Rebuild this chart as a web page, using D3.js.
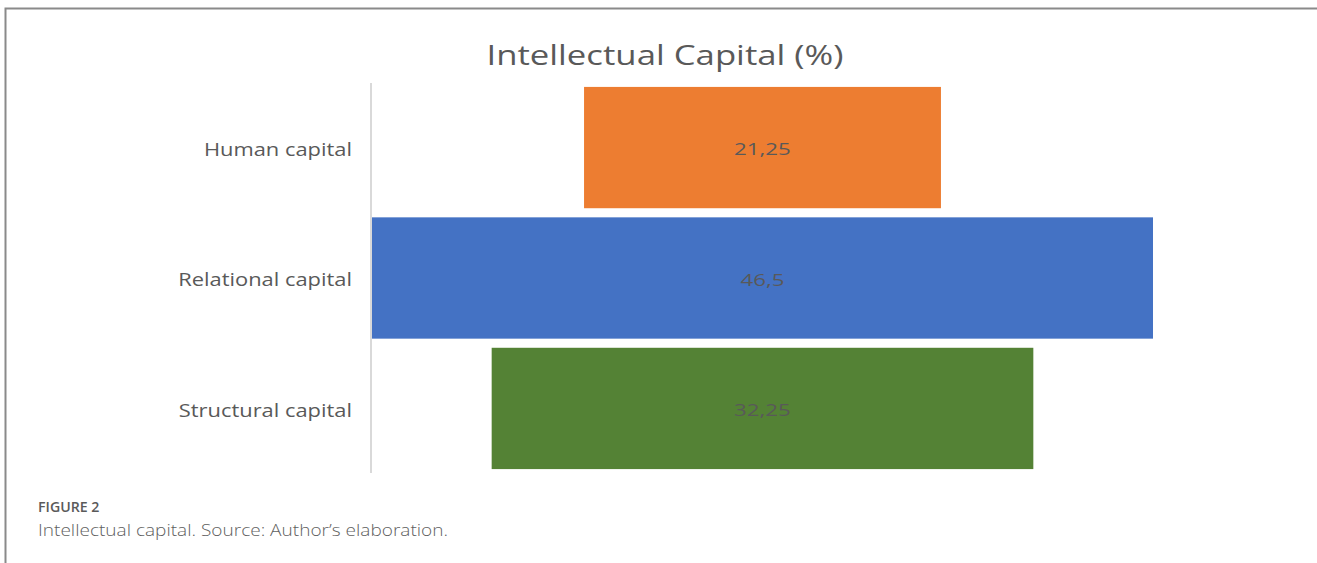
<!DOCTYPE html>
<html>
<head>
<meta charset="utf-8">
<script src="https://cdn.jsdelivr.net/npm/d3@7/dist/d3.min.js"></script>
<style>
  html, body { margin: 0; padding: 0; background: #fff; }
  svg { display: block; }
</style>
</head>
<body>
<script>
// Funnel-style bar chart: Intellectual Capital (%)
const categories = ["Human capital", "Relational capital", "Structural capital"];
const values = [21.25, 46.5, 32.25];
const valueLabels = ["21,25", "46,5", "32,25"];
const colors = ["#ED7D31", "#4472C4", "#548235"];
const chartTitle = "Intellectual Capital (%)";
const figureLabel = "FIGURE 2";
const figureCaption = "Intellectual capital. Source: Author\u2019s elaboration.";

const W = 1317, H = 563;
const svg = d3.select("body").append("svg").attr("width", W).attr("height", H);

// Widen a text element horizontally by a factor, keeping its anchor
function widen(sel, factor) {
  sel.each(function () {
    const len = this.getComputedTextLength();
    d3.select(this)
      .attr("textLength", len * factor)
      .attr("lengthAdjust", "spacingAndGlyphs");
  });
}

// Frame around the figure (left and top edges)
svg.append("path")
  .attr("d", `M5.5,${H} L5.5,8.5 L${W},8.5`)
  .attr("fill", "none")
  .attr("stroke", "#8a8a8a")
  .attr("stroke-width", 2);

// Plot area
const plotLeft = 372, plotRight = 1153;
const plotTop = 83, plotBottom = 473;
const centerX = (plotLeft + plotRight) / 2;

const x = d3.scaleLinear()
  .domain([0, d3.max(values)])
  .range([0, plotRight - plotLeft]);

const y = d3.scaleBand()
  .domain(categories)
  .range([plotTop, plotBottom])
  .paddingInner(0.07)
  .paddingOuter(0.03);

// Title
svg.append("text")
  .attr("x", 665)
  .attr("y", 65)
  .attr("text-anchor", "middle")
  .attr("font-family", "'Open Sans', sans-serif")
  .attr("font-size", 26.5)
  .attr("fill", "#595959")
  .text(chartTitle)
  .call(widen, 1.31);

// Category axis line
svg.append("line")
  .attr("x1", plotLeft - 1).attr("x2", plotLeft - 1)
  .attr("y1", plotTop).attr("y2", plotBottom)
  .attr("stroke", "#d9d9d9")
  .attr("stroke-width", 2);

// Bars, centred about the middle of the plot
svg.selectAll("rect.bar")
  .data(categories)
  .join("rect")
  .attr("class", "bar")
  .attr("x", (d, i) => centerX - x(values[i]) / 2)
  .attr("y", d => y(d))
  .attr("width", (d, i) => x(values[i]))
  .attr("height", y.bandwidth())
  .attr("fill", (d, i) => colors[i]);

// Value labels
svg.selectAll("text.val")
  .data(categories)
  .join("text")
  .attr("class", "val")
  .attr("x", centerX)
  .attr("y", d => y(d) + y.bandwidth() / 2 + 2)
  .attr("dy", "0.35em")
  .attr("text-anchor", "middle")
  .attr("font-family", "'Open Sans', sans-serif")
  .attr("font-size", 16.5)
  .attr("fill", "#595959")
  .text((d, i) => valueLabels[i])
  .call(widen, 1.35);

// Category labels
svg.selectAll("text.cat")
  .data(categories)
  .join("text")
  .attr("class", "cat")
  .attr("x", 352)
  .attr("y", d => y(d) + y.bandwidth() / 2 + 2)
  .attr("dy", "0.35em")
  .attr("text-anchor", "end")
  .attr("font-family", "'Open Sans', sans-serif")
  .attr("font-size", 17.5)
  .attr("fill", "#595959")
  .text(d => d)
  .call(widen, 1.25);

// Figure caption
svg.append("text")
  .attr("x", 38)
  .attr("y", 512)
  .attr("font-family", "'Open Sans', sans-serif")
  .attr("font-size", 13.5)
  .attr("font-weight", 600)
  .attr("fill", "#5a5a5a")
  .text(figureLabel)
  .call(widen, 1.05);

svg.append("text")
  .attr("x", 38)
  .attr("y", 536)
  .attr("font-family", "'Open Sans', sans-serif")
  .attr("font-size", 17)
  .attr("font-weight", 300)
  .attr("fill", "#5f5f5f")
  .text(figureCaption)
  .call(widen, 1.12);
</script>
</body>
</html>
